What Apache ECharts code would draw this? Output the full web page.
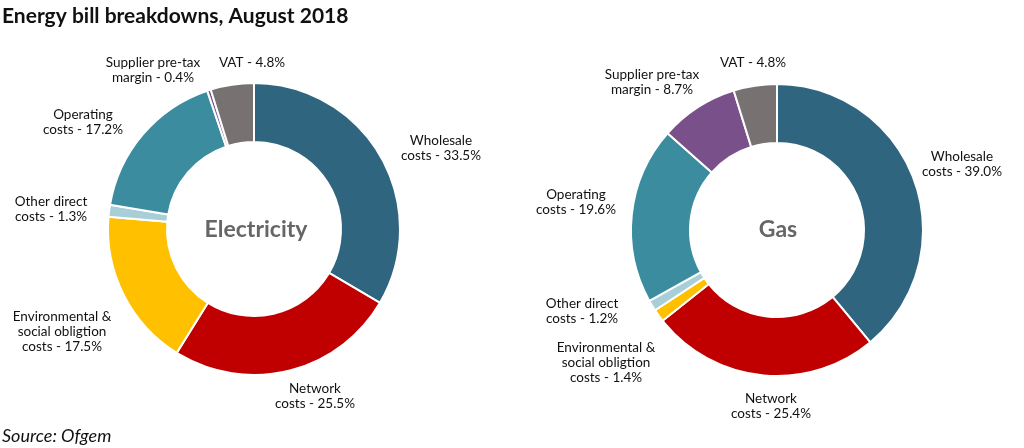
<!DOCTYPE html>
<html>
<head>
<meta charset="utf-8">
<script src="https://cdn.jsdelivr.net/npm/echarts@6/dist/echarts.min.js"></script>
<style>
html,body{margin:0;padding:0;background:#fff;}
#main{width:1024px;height:448px;}
</style>
</head>
<body>
<div id="main"></div>
<script>
// slices, clockwise from 12 o'clock
var categories = ['Wholesale costs', 'Network costs', 'Environmental & social obligtion costs',
    'Other direct costs', 'Operating costs', 'Supplier pre-tax margin', 'VAT'];
var labelText = ['Wholesale\ncosts', 'Network\ncosts', 'Environmental &\nsocial obligtion\ncosts',
    'Other direct\ncosts', 'Operating\ncosts', 'Supplier pre-tax\nmargin', 'VAT'];
var electricityValues = [33.5, 25.5, 17.5, 1.3, 17.2, 0.4, 4.8];
var gasValues = [39.0, 25.4, 1.4, 1.2, 19.6, 8.7, 4.8];
var colors = ['#2f657e', '#c00000', '#ffc000', '#a8cfd8', '#3a8c9e', '#7a508b', '#777171'];

// where the labels sit (hand placed, like in the original graphic)
var labelSpots = [
    [[441, 148], [315, 396], [62, 332], [51, 209], [83, 122], [153, 70], [252, 63]],
    [[962, 164], [771, 406], [606, 363], [582, 311], [576, 202], [652, 82], [753, 63]]
];

var myChart = echarts.init(document.getElementById('main'));

function makeData(values) {
    return values.map(function (v, i) {
        return {value: v, name: categories[i], label: {formatter: labelText[i] + ' - ' + v.toFixed(1) + '%'}};
    });
}

function pieSeries(name, values, center) {
    return {
        name: name,
        type: 'pie',
        center: center,
        radius: [87, 146],
        startAngle: 90,
        clockwise: true,
        avoidLabelOverlap: false,
        animation: false,
        itemStyle: {
            borderColor: '#fff',
            borderWidth: 2
        },
        label: {
            show: true,
            position: 'outside',
            color: '#111',
            fontFamily: 'Lato',
            fontSize: 13.5,
            lineHeight: 15,
            align: 'center'
        },
        labelLine: {
            show: false
        },
        labelLayout: function (params) {
            var p = labelSpots[params.seriesIndex][params.dataIndex];
            return {x: p[0], y: p[1], align: 'center', verticalAlign: 'middle'};
        },
        data: makeData(values)
    };
}

var option = {
    color: colors,
    title: [{
        text: 'Energy bill breakdowns, August 2018',
        left: 2,
        top: 6,
        padding: 0,
        textStyle: {fontFamily: 'Lato', fontWeight: 'bold', fontSize: 21, color: '#111'}
    }, {
        text: 'Source: Ofgem',
        left: 2,
        top: 427,
        padding: 0,
        textStyle: {fontFamily: 'Lato', fontStyle: 'italic', fontWeight: 'normal', fontSize: 18, color: '#111'}
    }, {
        text: 'Electricity',
        left: 256,
        top: 230,
        padding: 0,
        textAlign: 'center',
        textVerticalAlign: 'middle',
        textStyle: {fontFamily: 'Lato', fontWeight: 'bold', fontSize: 23, color: '#666'}
    }, {
        text: 'Gas',
        left: 778,
        top: 230,
        padding: 0,
        textAlign: 'center',
        textVerticalAlign: 'middle',
        textStyle: {fontFamily: 'Lato', fontWeight: 'bold', fontSize: 23, color: '#666'}
    }],
    series: [
        pieSeries('Electricity', electricityValues, [254, 229]),
        pieSeries('Gas', gasValues, [777, 230])
    ]
};
myChart.setOption(option);
</script>
</body>
</html>
